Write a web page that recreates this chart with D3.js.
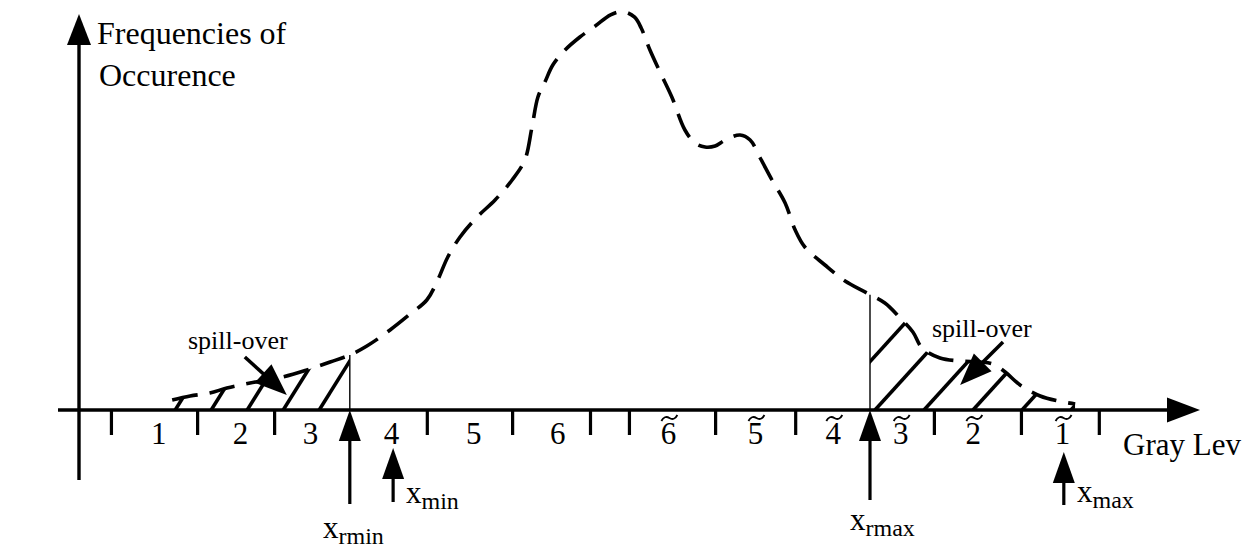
<!DOCTYPE html>
<html><head><meta charset="utf-8">
<script src="https://cdn.jsdelivr.net/npm/d3@7"></script>
<style>
html,body{margin:0;padding:0;background:#fff;overflow:hidden}
svg{display:block;background:#fff}
text{font-family:"Liberation Serif","Times New Roman",serif;fill:#000}
</style></head><body>
<svg id="chart" width="1246" height="550"></svg>
<script>
// Gray-level histogram profile (gray level, frequency of occurrence in % of peak)
const grayLevels = [21.3,25.4,29.9,33.8,39.1,46.6,52.1,57.4,61.9,65.8,71.1,75.7,79.5,81.8,84.3,87.1,91.0,95.1,99.0,101.9,103.5,104.9,106.5,108.3,111.1,114.5,118.0,121.5,124.3,127.0,128.5,130.5,132.8,135.5,138.5,140.8,143.1,145.4,147.7,151.1,153.4,155.7,158.4,161.4,163.7,165.9,170.5,175.1,180.1,184.2,187.7,190.6,192.7,196.8,201.4,205.9,208.9,211.7,215.1,219.7,223.8,227.7];
const frequencies = [2.5,3.5,4.25,5.5,6.75,8.25,10,12,13.75,16,20,24,27.5,32,38.25,43.25,48.25,52.5,57.5,62.5,70.5,78.25,82,86.25,90,93.25,96,98.8,99.6,98.2,95.5,90,84.5,78.25,70,66.75,65.75,66,67.5,68.75,67.5,63,57.5,51.75,45,40.75,36.25,32.25,29.25,26.75,23,19.5,15.5,13,12.25,12,11.5,9.5,6.25,3.5,2.25,1.5];

// Bin boundaries on the gray-level axis
const binTicks = [7.3,27,44.6,79.5,99,116.8,125.7,145.4,163.7,195.4,215.3,233.1];
// Bin labels and their centres; mirrored bins carry a tilde
const binLabelLevels = [18.1,36.8,52.8,71.3,90.1,109.3,134.6,154.5,172.3,187.7,204.3,224.7];
const binLabels = ["1","2","3","4","5","6","6","5","4","3","2","1"];
const binMirrored = [false,false,false,false,false,false,true,true,true,true,true,true];

// Threshold markers
const markerSubs = ["rmin","min","rmax","max"];
const markerLevels = [61.9,71.8,180.8,225.1];

// Spill-over regions (gray-level ranges)
const spillLow = [21.3,61.9];
const spillHigh = [180.8,227.7];
// Spill-over annotation arrows: [tail level, tail freq, tip level, tip freq]
const spillArrowLow = [37.9,13.25,47.5,3.75];
const spillArrowHigh = [211.2,17,201.4,6.25];

const svg = d3.select("#chart");

const x = d3.scaleLinear().domain([0,256]).range([79,1199]);
const y = d3.scaleLinear().domain([0,100]).range([410,10]);

const pts = grayLevels.map((g,i)=>[g,frequencies[i]]);
const line = d3.line().x(d=>x(d[0])).y(d=>y(d[1])).curve(d3.curveCatmullRom.alpha(0.5));
const area = d3.area().x(d=>x(d[0])).y0(y(0)).y1(d=>y(d[1])).curve(d3.curveCatmullRom.alpha(0.5));

function head(tx, ty, ang, len, wid){
  // filled triangular arrow head, tip at (tx,ty), pointing along angle ang
  const bx = tx - len*Math.cos(ang), by = ty - len*Math.sin(ang);
  const px = -Math.sin(ang)*wid/2, py = Math.cos(ang)*wid/2;
  return `M${tx},${ty}L${bx+px},${by+py}L${bx-px},${by-py}Z`;
}

const defs = svg.append("defs");
defs.append("clipPath").attr("id","under").append("path").attr("d", area(pts));
defs.append("clipPath").attr("id","bandLow").append("rect")
  .attr("x", x(spillLow[0])).attr("width", x(spillLow[1])-x(spillLow[0]))
  .attr("y", 0).attr("height", y(0));
defs.append("clipPath").attr("id","bandHigh").append("rect")
  .attr("x", x(spillHigh[0])).attr("width", x(spillHigh[1])-x(spillHigh[0]))
  .attr("y", 0).attr("height", y(0));

// Hatching of the spill-over areas
function hatch(clipId, x0, x1, step, slope){
  const g = svg.append("g").attr("clip-path",`url(#${clipId})`)
    .append("g").attr("clip-path","url(#under)");
  const rise = 200;
  for(let bx = x0; bx <= x1; bx += step){
    g.append("line").attr("x1",bx).attr("y1",y(0)).attr("x2",bx+rise/slope).attr("y2",y(0)-rise)
      .attr("stroke","#000").attr("stroke-width",3.6);
  }
}
hatch("bandLow", x(spillLow[0])+3, x(spillLow[1]), 36, 1.6);
hatch("bandHigh", x(spillHigh[0])-44, x(spillHigh[1]), 49, 1.1);

// Dashed histogram envelope
const curvePath = svg.append("path").attr("d", line(pts))
  .attr("fill","none").attr("stroke","#000").attr("stroke-width",3.6)
  .attr("stroke-dasharray","26 12").attr("stroke-linecap","butt");

// y on the drawn envelope at a given pixel x
const pathNode = curvePath.node();
const totalLen = pathNode.getTotalLength();
function curveYAt(px){
  let lo = 0, hi = totalLen;
  for(let k=0;k<40;k++){
    const mid=(lo+hi)/2;
    if(pathNode.getPointAtLength(mid).x < px) lo = mid; else hi = mid;
  }
  return pathNode.getPointAtLength(lo).y;
}

// Thin boundary lines of the spill-over regions
[spillLow[1], spillHigh[0]].forEach(g=>{
  svg.append("line").attr("x1",x(g)).attr("x2",x(g)).attr("y1",y(0)).attr("y2",curveYAt(x(g)))
    .attr("stroke","#000").attr("stroke-width",1.4);
});

// Axes
const axisG = svg.append("g").attr("transform",`translate(0,${y(0)})`)
  .call(d3.axisBottom(x).tickValues(binTicks).tickSize(25).tickFormat(""));
axisG.select(".domain").remove();
axisG.selectAll(".tick line").attr("stroke","#000").attr("stroke-width",3.2);

const labelAxis = svg.append("g").attr("transform",`translate(0,${y(0)})`)
  .call(d3.axisBottom(x).tickValues(binLabelLevels).tickSize(0).tickPadding(12)
    .tickFormat((d,i)=>binLabels[i]));
labelAxis.select(".domain").remove();
labelAxis.selectAll(".tick text").attr("font-size",31)
  .attr("font-family",'"Liberation Serif","Times New Roman",serif').attr("fill","#000");
// tilde accents over the mirrored bins
labelAxis.selectAll(".tick").filter((d,i)=>binMirrored[i])
  .append("path")
  .attr("d","M-8,3 C-6,-1 -3,-2 0,0 C3,2 6,1 8,-3")
  .attr("transform","translate(1,8)")
  .attr("fill","none").attr("stroke","#000").attr("stroke-width",1.8);

// x axis line with arrow
svg.append("line").attr("x1",x(-4.8)).attr("x2",x(256)-30).attr("y1",y(0)).attr("y2",y(0))
  .attr("stroke","#000").attr("stroke-width",3.4);
svg.append("path").attr("d", head(x(256)+1, y(0), 0, 33, 25)).attr("fill","#000");

// y axis line with arrow
svg.append("line").attr("x1",x(0)).attr("x2",x(0)).attr("y1",y(-17.5)).attr("y2",y(99)+28)
  .attr("stroke","#000").attr("stroke-width",3.4);
svg.append("path").attr("d", head(x(0), y(99), -Math.PI/2, 31, 24)).attr("fill","#000");

// Axis titles
const yTitle = svg.append("text").attr("x",97).attr("font-size",32);
yTitle.append("tspan").attr("x",97).attr("y",44).text("Frequencies of");
yTitle.append("tspan").attr("x",99).attr("y",86).text("Occurence");
svg.append("text").attr("x",1123).attr("y",455).attr("font-size",31).text("Gray Lev");

// Threshold marker arrows (tip y, bottom y) and labels
const markerTip = [y(0), 448, y(0), 452];
const markerBottom = [504, 502, 500, 505];
const markerLabelPos = [[323,538],[406,503],[850,530],[1077,502]];
markerLevels.forEach((g,i)=>{
  const mx = x(g);
  svg.append("line").attr("x1",mx).attr("x2",mx).attr("y1",markerTip[i]+20).attr("y2",markerBottom[i])
    .attr("stroke","#000").attr("stroke-width",3.2);
  svg.append("path").attr("d", head(mx, markerTip[i], -Math.PI/2, 31, 22)).attr("fill","#000");
  const t = svg.append("text").attr("x",markerLabelPos[i][0]).attr("y",markerLabelPos[i][1]).attr("font-size",31);
  t.append("tspan").text("x");
  t.append("tspan").attr("font-size",24).attr("dy",6).text(markerSubs[i]);
});

// Spill-over annotations
[[spillArrowLow,[188,349]],[spillArrowHigh,[932,337]]].forEach(([a,pos])=>{
  const x1 = x(a[0]), y1 = y(a[1]), x2 = x(a[2]), y2 = y(a[3]);
  const ang = Math.atan2(y2-y1, x2-x1);
  svg.append("line").attr("x1",x1).attr("y1",y1).attr("x2",x2-20*Math.cos(ang)).attr("y2",y2-20*Math.sin(ang))
    .attr("stroke","#000").attr("stroke-width",3.6);
  svg.append("path").attr("d", head(x2,y2,ang,32,25)).attr("fill","#000");
  svg.append("text").attr("x",pos[0]).attr("y",pos[1]).attr("font-size",26).text("spill-over");
});
</script>
</body></html>
